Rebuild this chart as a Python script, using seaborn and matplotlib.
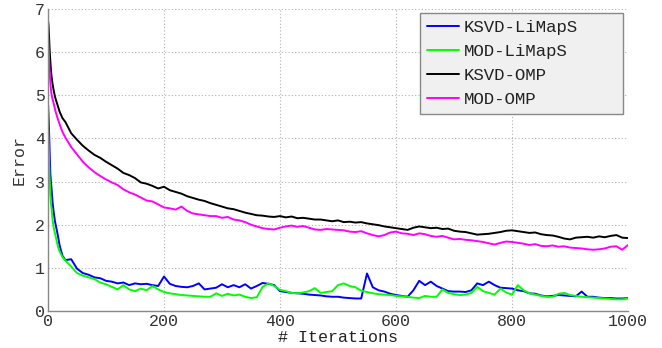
import numpy as np
import pandas as pd
import matplotlib
matplotlib.use("Agg")
import matplotlib.pyplot as plt
import seaborn as sns

iterations = [0, 1, 2, 3, 4, 5, 6, 8, 10, 12, 14, 17, 20, 25] + list(range(30, 1001, 10))

ksvd_omp = [6.75, 6.6, 6.3, 6.0, 5.8, 5.6, 5.45, 5.25, 5.1, 4.97, 4.88, 4.75, 4.62, 4.47,
            4.38, 4.12, 3.97, 3.83, 3.72, 3.62, 3.55, 3.46, 3.38, 3.30,
            3.20, 3.15, 3.08, 2.98, 2.95, 2.90, 2.84, 2.88, 2.80, 2.76,
            2.72, 2.66, 2.62, 2.58, 2.55, 2.50, 2.46, 2.42, 2.38, 2.36,
            2.32, 2.28, 2.25, 2.22, 2.21, 2.19, 2.18, 2.20, 2.17, 2.19,
            2.15, 2.16, 2.14, 2.12, 2.12, 2.10, 2.08, 2.10, 2.06, 2.07,
            2.05, 2.06, 2.03, 2.01, 1.99, 1.96, 1.94, 1.92, 1.90, 1.88,
            1.93, 1.96, 1.94, 1.92, 1.93, 1.90, 1.91, 1.86, 1.84, 1.83,
            1.80, 1.77, 1.78, 1.79, 1.81, 1.83, 1.86, 1.87, 1.85, 1.83,
            1.81, 1.82, 1.78, 1.76, 1.75, 1.72, 1.68, 1.66, 1.70, 1.71,
            1.72, 1.70, 1.73, 1.71, 1.74, 1.76, 1.70, 1.69]

mod_omp = [6.40, 6.1, 5.8, 5.5, 5.3, 5.15, 5.02, 4.9, 4.8, 4.68, 4.58, 4.45, 4.33, 4.15,
           4.02, 3.80, 3.63, 3.46, 3.33, 3.22, 3.13, 3.05, 2.98, 2.92,
           2.82, 2.75, 2.70, 2.63, 2.56, 2.54, 2.47, 2.40, 2.38, 2.35,
           2.42, 2.32, 2.26, 2.24, 2.22, 2.20, 2.20, 2.16, 2.18, 2.12,
           2.10, 2.06, 2.00, 1.96, 1.92, 1.90, 1.89, 1.93, 1.96, 1.98,
           1.95, 1.97, 1.93, 1.89, 1.88, 1.90, 1.89, 1.88, 1.87, 1.84,
           1.83, 1.85, 1.80, 1.76, 1.73, 1.76, 1.82, 1.84, 1.80, 1.79,
           1.76, 1.80, 1.78, 1.74, 1.72, 1.74, 1.70, 1.66, 1.67, 1.65,
           1.64, 1.62, 1.60, 1.57, 1.54, 1.58, 1.61, 1.60, 1.58, 1.56,
           1.53, 1.55, 1.51, 1.50, 1.52, 1.49, 1.50, 1.47, 1.46, 1.45,
           1.43, 1.42, 1.43, 1.45, 1.49, 1.50, 1.42, 1.53]

ksvd_limaps = [4.82, 4.5, 4.1, 3.6, 3.2, 3.0, 2.85, 2.5, 2.27, 2.08, 1.95, 1.75, 1.52, 1.28,
               1.18, 1.20, 0.98, 0.88, 0.84, 0.78, 0.76, 0.70, 0.68, 0.64,
               0.66, 0.60, 0.64, 0.62, 0.63, 0.60, 0.58, 0.80, 0.63, 0.58,
               0.56, 0.55, 0.58, 0.64, 0.50, 0.52, 0.54, 0.62, 0.55, 0.60,
               0.55, 0.62, 0.52, 0.58, 0.65, 0.63, 0.60, 0.46, 0.44, 0.42,
               0.41, 0.40, 0.38, 0.37, 0.36, 0.34, 0.33, 0.33, 0.31, 0.30,
               0.29, 0.29, 0.87, 0.55, 0.48, 0.45, 0.40, 0.37, 0.35, 0.33,
               0.48, 0.70, 0.60, 0.68, 0.58, 0.52, 0.46, 0.45, 0.45, 0.44,
               0.48, 0.64, 0.60, 0.68, 0.60, 0.54, 0.53, 0.52, 0.48, 0.46,
               0.41, 0.40, 0.36, 0.34, 0.35, 0.37, 0.36, 0.35, 0.34, 0.45,
               0.33, 0.33, 0.31, 0.30, 0.30, 0.29, 0.29, 0.30]

mod_limaps = [4.35, 3.9, 3.4, 3.0, 2.7, 2.5, 2.38, 2.1, 1.92, 1.80, 1.68, 1.50, 1.38, 1.25,
              1.17, 1.03, 0.88, 0.82, 0.78, 0.74, 0.66, 0.62, 0.56, 0.50,
              0.60, 0.50, 0.46, 0.52, 0.48, 0.58, 0.50, 0.44, 0.41, 0.39,
              0.37, 0.36, 0.35, 0.34, 0.33, 0.33, 0.41, 0.35, 0.40, 0.36,
              0.38, 0.33, 0.30, 0.32, 0.56, 0.64, 0.58, 0.49, 0.46, 0.42,
              0.41, 0.43, 0.46, 0.53, 0.42, 0.44, 0.46, 0.60, 0.64, 0.58,
              0.55, 0.47, 0.44, 0.41, 0.39, 0.38, 0.37, 0.35, 0.34, 0.33,
              0.31, 0.30, 0.35, 0.33, 0.33, 0.50, 0.42, 0.39, 0.37, 0.38,
              0.42, 0.56, 0.46, 0.42, 0.38, 0.52, 0.43, 0.38, 0.60, 0.48,
              0.41, 0.38, 0.35, 0.33, 0.33, 0.40, 0.42, 0.37, 0.35, 0.33,
              0.32, 0.31, 0.30, 0.29, 0.28, 0.27, 0.27, 0.29]

series_names = ["KSVD-LiMapS", "MOD-LiMapS", "KSVD-OMP", "MOD-OMP"]
series_values = [ksvd_limaps, mod_limaps, ksvd_omp, mod_omp]
colors = {"KSVD-LiMapS": "#0000ff", "MOD-LiMapS": "#00ff00",
          "KSVD-OMP": "#000000", "MOD-OMP": "#ff00ff"}

frames = []
for name, vals in zip(series_names, series_values):
    frames.append(pd.DataFrame({"Iteration": iterations, "Error": vals, "Method": name}))
df = pd.concat(frames, ignore_index=True)

sns.set_style("white")
font = ["Liberation Mono", "DejaVu Sans Mono"]
plt.rcParams["font.family"] = font

fig = plt.figure(figsize=(6.62, 3.48), dpi=100)
ax = fig.add_axes([48 / 662, 1 - 311 / 348, 580 / 662, 302 / 348])

sns.lineplot(data=df, x="Iteration", y="Error", hue="Method", hue_order=series_names,
             palette=colors, linewidth=1.4, ax=ax, estimator=None, sort=False)

ax.set_xlim(0, 1000)
ax.set_ylim(0, 7)
ax.set_xticks([0, 200, 400, 600, 800, 1000])
ax.set_yticks(range(0, 8))
ax.grid(True, linestyle=(0, (1, 2)), color="#b0b0b0", linewidth=0.8)
for s in ["top", "right"]:
    ax.spines[s].set_visible(False)
for s in ["left", "bottom"]:
    ax.spines[s].set_color("#888888")
    ax.spines[s].set_linewidth(1.0)
ax.tick_params(axis="both", labelsize=12, colors="#333333", length=0, pad=2)
ax.set_xlabel("# Iterations", fontsize=12, color="#222222", labelpad=1)
ax.set_ylabel("Error", fontsize=12, color="#333333", labelpad=6)

leg = ax.legend(loc="upper left", bbox_to_anchor=(420 / 662, 1 - 109 / 348, 203 / 662, 96 / 348),
                bbox_transform=fig.transFigure, mode="expand", fontsize=12.5, frameon=True,
                fancybox=False, handlelength=1.85, handletextpad=0.25,
                labelspacing=0.5, borderpad=0.4, borderaxespad=0)
leg.get_frame().set_facecolor("#f0f0f0")
leg.get_frame().set_edgecolor("#888888")
leg.get_frame().set_alpha(1)
for t in leg.get_texts():
    t.set_color("#222222")

fig.savefig("out.png", dpi=100)
